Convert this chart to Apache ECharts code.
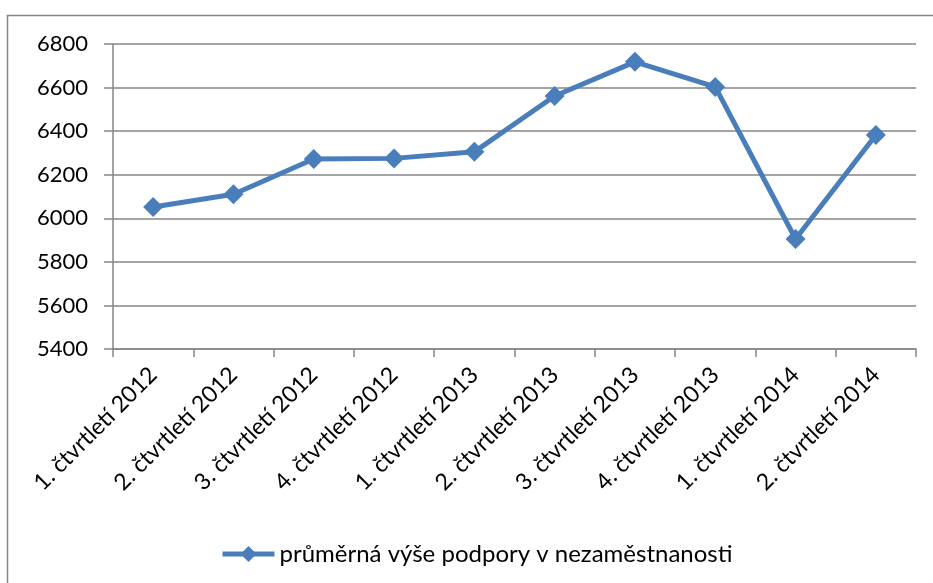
<!DOCTYPE html>
<html>
<head>
<meta charset="utf-8">
<script src="https://cdn.jsdelivr.net/npm/echarts@6/dist/echarts.min.js"></script>
<style>
  html, body { margin: 0; padding: 0; background: #fff; }
  #chart { width: 933px; height: 583px; }
</style>
</head>
<body>
<div id="chart"></div>
<script>
const categories = [
  '1. čtvrtletí 2012', '2. čtvrtletí 2012', '3. čtvrtletí 2012', '4. čtvrtletí 2012',
  '1. čtvrtletí 2013', '2. čtvrtletí 2013', '3. čtvrtletí 2013', '4. čtvrtletí 2013',
  '1. čtvrtletí 2014', '2. čtvrtletí 2014'
]
const podpora = [6052, 6110, 6272, 6275, 6305, 6561, 6718, 6603, 5905, 6382]
const seriesName = 'průměrná výše podpory v nezaměstnanosti'

const font = 'Lato, "Noto Sans", sans-serif'
const chart = echarts.init(document.getElementById('chart'))

chart.setOption({
  animation: false,
  graphic: [{
    type: 'rect',
    shape: { x: 7.5, y: 15.5, width: 940, height: 600 },
    style: { fill: 'none', stroke: '#868686', lineWidth: 1.5 }
  }],
  grid: { left: 113, right: 17, top: 44, bottom: 234 },
  legend: {
    data: [seriesName],
    left: 215,
    top: 537,
    itemWidth: 52,
    itemHeight: 20,
    itemGap: 4,
    lineStyle: { width: 5 },
    textStyle: { fontFamily: font, fontSize: 24, color: '#000' }
  },
  xAxis: {
    type: 'category',
    data: categories,
    boundaryGap: true,
    axisLine: { lineStyle: { color: '#868686', width: 1.5 } },
    axisTick: { show: true, length: 8, lineStyle: { color: '#868686', width: 1.5 } },
    axisLabel: {
      interval: 0,
      rotate: 45,
      margin: 22,
      fontFamily: font,
      fontSize: 23,
      color: '#000'
    }
  },
  yAxis: {
    type: 'value',
    min: 5400,
    max: 6800,
    interval: 200,
    axisLine: { show: true, lineStyle: { color: '#868686', width: 1.5 } },
    axisTick: { show: true, length: 9, lineStyle: { color: '#868686', width: 1.5 } },
    splitLine: { lineStyle: { color: '#868686', width: 1.5 } },
    axisLabel: {
      formatter: (v) => String(v),
      fontFamily: font,
      fontSize: 22,
      color: '#000',
      margin: 25
    }
  },
  series: [{
    name: seriesName,
    type: 'line',
    data: podpora,
    symbol: 'diamond',
    symbolSize: 20,
    lineStyle: { color: '#4a7ebb', width: 5 },
    itemStyle: { color: '#4a7ebb' }
  }]
})
</script>
</body>
</html>
